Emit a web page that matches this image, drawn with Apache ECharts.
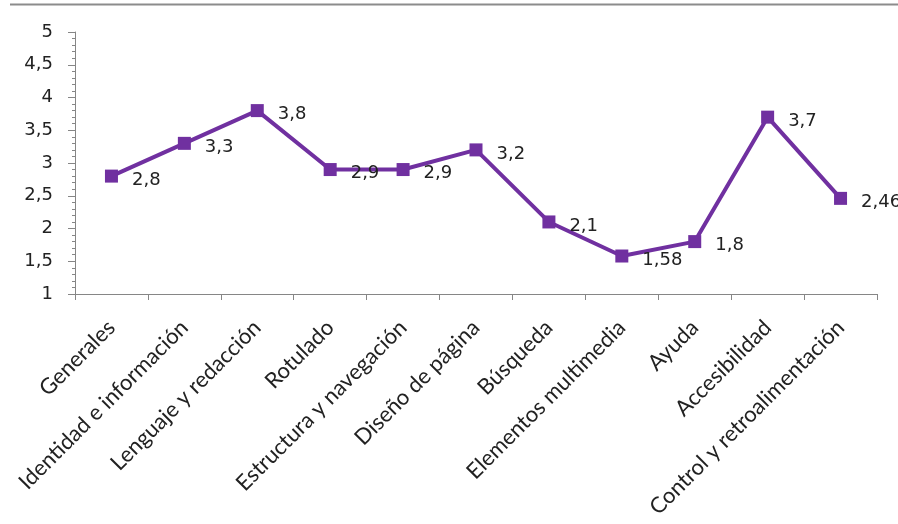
<!DOCTYPE html>
<html>
<head>
<meta charset="utf-8">
<script src="https://cdn.jsdelivr.net/npm/echarts@6/dist/echarts.min.js"></script>
<style>html,body{margin:0;padding:0;background:#fff;}#c{width:898px;height:524px;}</style>
</head>
<body>
<div id="c"></div>
<script>
var categories = ["Generales","Identidad e información","Lenguaje y redacción","Rotulado","Estructura y navegación","Diseño de página","Búsqueda","Elementos multimedia","Ayuda","Accesibilidad","Control y retroalimentación"];
var values = [2.8, 3.3, 3.8, 2.9, 2.9, 3.2, 2.1, 1.58, 1.8, 3.7, 2.46];
var yTicks = [1, 1.5, 2, 2.5, 3, 3.5, 4, 4.5, 5];

function fmt(v){ return String(v).replace('.', ','); }

var chart = echarts.init(document.getElementById('c'), null, {renderer:'canvas'});
chart.setOption({
  animation: false,
  backgroundColor: '#fff',
  graphic: [{
    type: 'line', shape: {x1: 10, y1: 4.5, x2: 898, y2: 4.5},
    style: {stroke: '#8c8c8c', lineWidth: 2}
  }],
  grid: {left: 75, right: 21, top: 32, bottom: 230},
  xAxis: {
    type: 'category',
    data: categories,
    boundaryGap: true,
    axisLine: {lineStyle: {color: '#868686', width: 1}},
    axisTick: {show: true, length: 6, lineStyle: {color: '#868686'}},
    axisLabel: {
      rotate: 45, interval: 0, margin: 30,
      fontFamily: 'Lato', fontSize: 22, color: '#222'
    }
  },
  yAxis: {
    type: 'value',
    min: yTicks[0], max: yTicks[yTicks.length-1], interval: 0.5,
    axisLine: {show: true, lineStyle: {color: '#868686', width: 1}},
    axisTick: {show: true, inside: false, length: 7, lineStyle: {color: '#868686'}},
    minorTick: {show: true, splitNumber: 5, length: 3, lineStyle: {color: '#868686'}},
    splitLine: {show: false},
    axisLabel: {
      formatter: function(v){ return fmt(v); },
      fontFamily: 'DejaVu Sans', fontSize: 18, color: '#222', margin: 22
    }
  },
  series: [{
    type: 'line',
    data: values,
    symbol: 'rect',
    symbolSize: 13,
    lineStyle: {color: '#7030A0', width: 4},
    itemStyle: {color: '#7030A0'},
    label: {
      show: true, position: 'right', distance: 14, offset: [0, 4],
      formatter: function(p){ return fmt(p.value); },
      fontFamily: 'DejaVu Sans', fontSize: 18, color: '#222'
    }
  }]
});
</script>
</body>
</html>
